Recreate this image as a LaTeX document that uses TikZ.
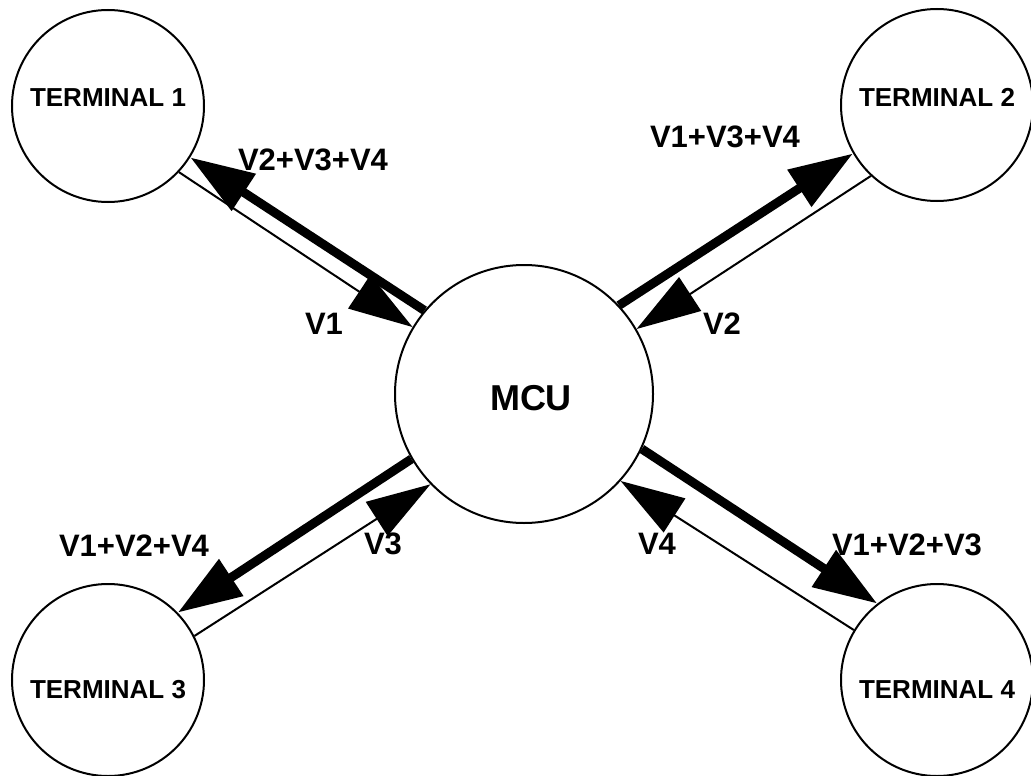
\documentclass[tikz,border=0pt]{standalone}
\usepackage{fontspec}
\setmainfont{Liberation Sans}
\usetikzlibrary{arrows.meta}
\tikzset{
  term/.style={circle,draw,line width=2pt,minimum size=192pt,inner sep=0pt},
  mcubox/.style={circle,draw,line width=2pt,minimum size=258pt,inner sep=0pt},
  tlab/.style={font=\fontsize{26}{30}\selectfont\bfseries,inner sep=0pt},
  vlab/.style={font=\fontsize{31}{36}\selectfont\bfseries,inner sep=0pt},
  bigarr/.style={line width=9pt,-{Triangle[length=64pt,width=42pt]}},
  smallarr/.style={line width=2pt,-{Triangle[length=64pt,width=40pt]}}
}
\begin{document}
\begin{tikzpicture}[x=1pt,y=-1pt]
\useasboundingbox (0,0) rectangle (1031,776);
\node[mcubox,label={[font=\fontsize{36}{40}\selectfont\bfseries,inner sep=0pt,xshift=7pt,yshift=-4pt]center:MCU}] (mcu) at (524,394) {};
\node[term,label={[tlab,yshift=8pt]center:TERMINAL 1}] (t1) at (108,106) {};
\node[term,label={[tlab,yshift=8pt]center:TERMINAL 2}] (t2) at (937,105) {};
\node[term,label={[tlab,yshift=-10pt]center:TERMINAL 3}] (t3) at (108,680) {};
\node[term,label={[tlab,yshift=-10pt]center:TERMINAL 4}] (t4) at (937,680) {};
% top-left
\draw[bigarr] (mcu.140.3) -- (t1.-32.7);
\draw[smallarr] (t1.-43.7) -- (mcu.149.5);
% top-right
\draw[bigarr] (mcu.43.4) -- (t2.210.8);
\draw[smallarr] (t2.227.1) -- (mcu.30.1);
% bottom-left
\draw[bigarr] (mcu.210) -- (t3.44.6);
\draw[smallarr] (t3.27.9) -- (mcu.224.1);
% bottom-right
\draw[bigarr] (mcu.-25.8) -- (t4.128);
\draw[smallarr] (t4.149) -- (mcu.-42.5);
% labels
\node[vlab] (l1) at (313,160) {V2+V3+V4};
\node[vlab] (l2) at (324,324) {V1};
\node[vlab] (l3) at (725,137) {V1+V3+V4};
\node[vlab] (l4) at (722,324) {V2};
\node[vlab] (l5) at (134,546) {V1+V2+V4};
\node[vlab] (l6) at (383,544) {V3};
\node[vlab] (l7) at (657,544) {V4};
\node[vlab] (l8) at (907,545) {V1+V2+V3};
\end{tikzpicture}
\end{document}
